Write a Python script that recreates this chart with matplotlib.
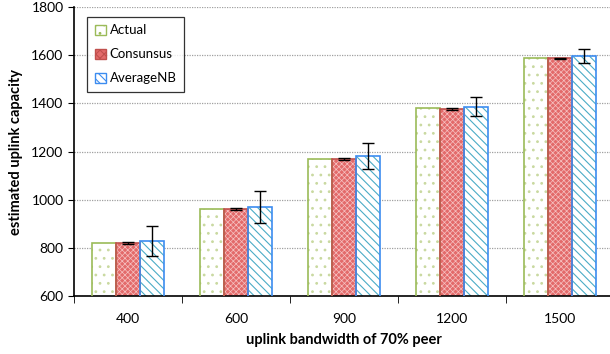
import numpy as np
import matplotlib
matplotlib.use('Agg')
from matplotlib import pyplot as plt
from matplotlib.patches import Patch

plt.rcParams['font.family'] = ['Lato', 'DejaVu Sans']
plt.rcParams['hatch.linewidth'] = 0.8

categories = ['400', '600', '900', '1200', '1500']
actual = [820, 960, 1169, 1379, 1588]
consensus = [822, 961, 1168, 1377, 1587]
consensus_err = [4, 3, 4, 3, 3]
averagenb = [828, 970, 1180, 1386, 1598]
averagenb_err = [62, 65, 54, 40, 29]

fig = plt.figure(figsize=(6.10, 3.54), dpi=100)
ax = fig.add_axes([0.1213, 0.1638, 0.8853, 0.8162])

x = np.arange(len(categories))
w = 0.222

# (values, fill, hatch, hatch colour, edge colour, hatch width)
series = [
    (actual, 'white', '..', '#C9D9A0', '#9BBB59', 0.8),
    (consensus, '#E36A6A', 'xxxxxx', '#F6C2C2', '#C0504D', 0.5),
    (averagenb, 'white', '\\\\\\\\', '#4BACC6', '#3C8CF0', 0.8),
]
for i, (vals, fc, hatch, hc, ec, hw) in enumerate(series):
    pos = x + (i - 1) * w
    plt.rcParams['hatch.linewidth'] = hw
    ax.bar(pos, vals, w, bottom=0, color=fc, hatch=hatch, edgecolor=hc,
           linewidth=0, zorder=2)
    ax.bar(pos, vals, w, bottom=0, fill=False, edgecolor=ec,
           linewidth=1.2, zorder=3)

ax.errorbar(x, consensus, yerr=consensus_err, fmt='none', ecolor='black',
            elinewidth=1, capsize=4, capthick=1, zorder=4)
ax.errorbar(x + w, averagenb, yerr=averagenb_err, fmt='none', ecolor='black',
            elinewidth=1, capsize=4, capthick=1, zorder=4)

ax.set_ylim(600, 1800)
ax.set_xlim(-0.5, len(categories) - 0.5)
ax.set_yticks(np.arange(600, 1801, 200))
ax.set_xticks(x)
ax.set_xticklabels(categories)
ax.set_xticks(np.arange(-0.5, len(categories), 1), minor=True)
ax.tick_params(axis='x', which='major', length=0, pad=12, labelsize=10)
ax.tick_params(axis='x', which='minor', length=5, direction='out')
ax.tick_params(axis='y', length=4, direction='out', labelsize=10)

ax.grid(axis='y', linestyle=(0, (1, 1)), color='#A0A0A0', linewidth=0.9, zorder=0)
ax.set_axisbelow(True)
ax.spines['top'].set_visible(False)
ax.spines['right'].set_visible(False)
ax.spines['left'].set_linewidth(1.2)
ax.spines['bottom'].set_linewidth(1.2)

ax.set_xlabel('uplink bandwidth of 70% peer', fontsize=10.5, fontweight='bold',
              labelpad=6)
ax.set_ylabel('estimated uplink capacity', fontsize=10.5, fontweight='bold',
              labelpad=6)

plt.rcParams['hatch.linewidth'] = 0.8
handles = [
    Patch(facecolor='white', edgecolor='#9BBB59', hatch='..', label='Actual'),
    Patch(facecolor='#E36A6A', edgecolor='#C0504D', hatch='xxxx', label='Consunsus'),
    Patch(facecolor='white', edgecolor='#3C8CF0', hatch='\\\\\\\\', label='AverageNB'),
]
leg = ax.legend(handles=handles, loc='upper left', bbox_to_anchor=(0.012, 0.99),
                fontsize=9.5, frameon=True, fancybox=False, edgecolor='black',
                handlelength=0.8, handleheight=0.8, handletextpad=0.3,
                labelspacing=0.9, borderpad=0.6)
leg.get_frame().set_linewidth(0.9)

fig.savefig('out.png', dpi=100)
